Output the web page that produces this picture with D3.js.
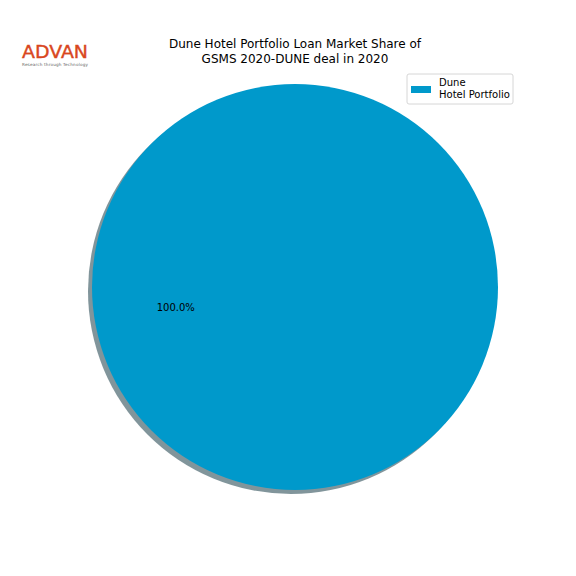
<!DOCTYPE html>
<html>
<head>
<meta charset="utf-8">
<script src="https://cdn.jsdelivr.net/npm/d3@7"></script>
<style>
  body { margin: 0; background: #fff; }
  text { font-family: "DejaVu Sans", sans-serif; }
</style>
</head>
<body>
<div id="chart"></div>
<script>
// chart data
const categories = ["Dune\nHotel Portfolio"];
const shares = [100];
const colors = ["#0099cb"];
const titleLines = ["Dune Hotel Portfolio Loan Market Share of", "GSMS 2020-DUNE deal in 2020"];

const width = 576, height = 576;
const cx = 295, cy = 287, radius = 203;

const svg = d3.select("#chart").append("svg")
  .attr("width", width)
  .attr("height", height);

const pie = d3.pie().sort(null).startAngle(Math.PI / 2).endAngle(Math.PI / 2 + 2 * Math.PI);
const arcs = pie(shares);
const arc = d3.arc().innerRadius(0).outerRadius(radius);

// shadow
svg.append("g")
  .attr("transform", `translate(${cx - 4},${cy + 4})`)
  .selectAll("path")
  .data(arcs)
  .join("path")
  .attr("d", arc)
  .attr("fill", "#3e5c66")
  .attr("opacity", 0.65);

const g = svg.append("g").attr("transform", `translate(${cx},${cy})`);
g.selectAll("path")
  .data(arcs)
  .join("path")
  .attr("d", arc)
  .attr("fill", (d, i) => colors[i]);

// percentage labels
const labelArc = d3.arc().innerRadius(radius * 0.6).outerRadius(radius * 0.6);
g.selectAll("text.pct")
  .data(arcs)
  .join("text")
  .attr("class", "pct")
  .attr("transform", d => {
    const c = labelArc.centroid({startAngle: Math.PI * 1.5 + 0.1, endAngle: Math.PI * 1.5 + 0.1});
    return `translate(${c[0] + 2},${c[1] + 33})`;
  })
  .attr("text-anchor", "middle")
  .attr("dominant-baseline", "middle")
  .attr("font-size", 10)
  .text(d => d.data.toFixed(1) + "%");

// title
svg.append("text")
  .attr("x", 295)
  .attr("y", 48)
  .attr("text-anchor", "middle")
  .attr("font-size", 12)
  .selectAll("tspan")
  .data(titleLines)
  .join("tspan")
  .attr("x", 295)
  .attr("dy", (d, i) => i === 0 ? 0 : 15)
  .text(d => d);

// legend
const legend = svg.append("g").attr("transform", "translate(407,74)");
legend.append("rect")
  .attr("width", 106).attr("height", 30)
  .attr("rx", 2)
  .attr("fill", "#fff")
  .attr("stroke", "#d6d6d6");
categories.forEach((c, i) => {
  legend.append("rect")
    .attr("x", 4).attr("y", 12)
    .attr("width", 20).attr("height", 7)
    .attr("fill", colors[i]);
  const t = legend.append("text").attr("font-size", 10).attr("fill", "#000");
  c.split("\n").forEach((line, j) => {
    t.append("tspan").attr("x", 32).attr("y", 12 + j * 12).text(line);
  });
});

// logo
const logo = svg.append("g");
logo.append("text")
  .attr("x", 22).attr("y", 58)
  .attr("font-size", 18)
  .attr("fill", "#d9471e")
  .attr("stroke", "#d9471e")
  .attr("stroke-width", 0.4)
  .attr("textLength", 66)
  .attr("lengthAdjust", "spacingAndGlyphs")
  .text("ADVAN");
logo.append("text")
  .attr("x", 22).attr("y", 65.5)
  .attr("font-size", 4.2)
  .attr("fill", "#666")
  .attr("textLength", 66)
  .text("Research through Technology");
</script>
</body>
</html>
